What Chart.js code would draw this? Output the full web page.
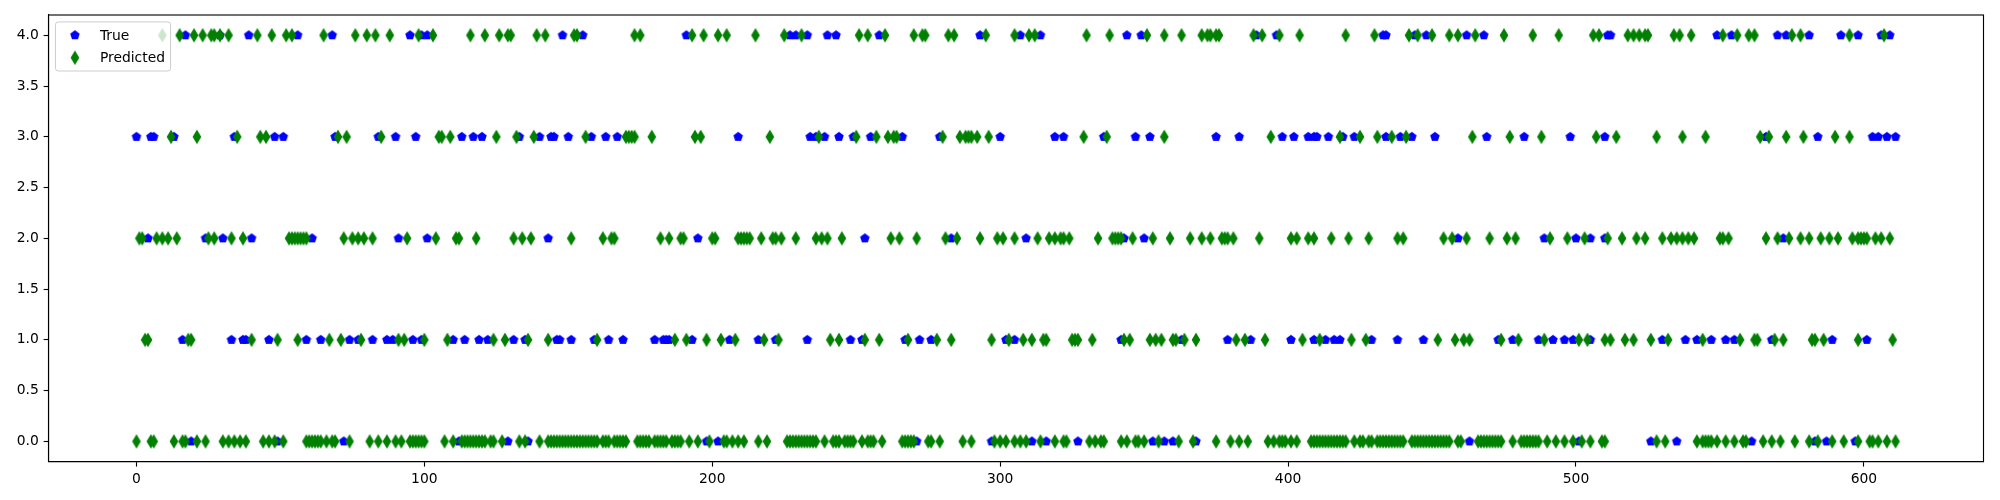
<!DOCTYPE html>
<html><head><meta charset="utf-8">
<script src="https://cdn.jsdelivr.net/npm/chart.js@4.4.1/dist/chart.umd.min.js"></script>
<style>html,body{margin:0;padding:0;background:#fff}#wrap{width:2000px;height:500px;position:relative}</style>
</head><body><div id="wrap"><canvas id="c" width="2000" height="500"></canvas></div>
<script>
// ---------------- data (sample index positions per class row) ----------------
const seriesLabels = ['True', 'Predicted'];
const classes = [0, 1, 2, 3, 4];
const xTicks = [0, 100, 200, 300, 400, 500, 600];
const yTicks = [0, 0.5, 1, 1.5, 2, 2.5, 3, 3.5, 4];

const trueRow0 = [19, 49, 72, 112, 129, 136, 198, 202, 271, 297, 311, 316, 327, 353, 357, 360, 368, 463, 501, 526, 535, 561, 583, 587, 597];
const trueRow1 = [16, 33, 37, 38, 46, 59, 64, 74, 77, 82, 87, 89, 96, 99, 110, 114, 119, 122, 131, 135, 146, 147, 151, 159, 164, 169, 180, 183, 184, 185, 193, 206, 216, 222, 233, 248, 252, 267, 272, 276, 302, 305, 342, 363, 379, 387, 401, 409, 413, 416, 418, 429, 438, 447, 473, 478, 487, 492, 496, 499, 505, 530, 538, 542, 547, 552, 555, 568, 589, 601];
const trueRow2 = [4, 24, 30, 40, 61, 91, 101, 143, 195, 210, 253, 283, 309, 343, 350, 459, 489, 500, 505, 510, 572];
const trueRow3 = [0, 5, 6, 13, 34, 48, 51, 69, 84, 90, 97, 113, 117, 120, 133, 140, 144, 145, 150, 158, 163, 167, 209, 234, 236, 239, 244, 249, 255, 266, 279, 300, 319, 322, 336, 347, 352, 375, 383, 398, 402, 407, 409, 410, 414, 419, 423, 434, 439, 443, 451, 469, 482, 498, 510, 566, 584, 603, 605, 608, 611];
const trueRow4 = [17, 29, 39, 56, 68, 95, 99, 101, 148, 155, 191, 227, 229, 233, 240, 243, 258, 293, 307, 314, 344, 349, 389, 396, 433, 434, 444, 448, 462, 468, 511, 512, 549, 554, 570, 573, 581, 592, 598, 606, 609];

const predRow0 = [0, 5, 6, 13, 16, 17, 21, 24, 30, 32, 34, 36, 38, 44, 46, 48, 51, 59, 60, 61, 62, 63, 64, 66, 68, 69, 74, 81, 84, 87, 90, 92, 95, 96, 97, 98, 99, 100, 107, 110, 113, 114, 115, 116, 117, 118, 119, 120, 121, 123, 124, 127, 133, 135, 140, 143, 144, 145, 146, 147, 148, 149, 150, 151, 152, 153, 154, 155, 156, 157, 158, 159, 160, 162, 163, 164, 166, 167, 168, 169, 170, 174, 175, 176, 177, 178, 180, 181, 182, 183, 184, 186, 187, 188, 189, 192, 195, 199, 204, 205, 207, 209, 211, 216, 219, 226, 227, 228, 229, 230, 231, 232, 233, 234, 235, 236, 239, 242, 243, 244, 246, 247, 248, 249, 252, 254, 255, 256, 259, 266, 267, 268, 269, 270, 275, 276, 279, 287, 290, 298, 300, 302, 305, 307, 309, 314, 319, 322, 323, 331, 333, 335, 336, 342, 344, 347, 348, 350, 355, 362, 367, 375, 380, 383, 386, 393, 395, 397, 398, 399, 401, 403, 408, 409, 410, 411, 412, 413, 414, 415, 416, 417, 418, 419, 420, 423, 425, 426, 428, 429, 431, 432, 433, 434, 435, 436, 437, 438, 439, 440, 443, 444, 445, 446, 447, 448, 449, 450, 451, 452, 453, 454, 455, 456, 459, 460, 466, 467, 468, 469, 470, 471, 472, 473, 474, 478, 481, 482, 483, 484, 485, 486, 487, 490, 493, 496, 499, 502, 505, 509, 510, 528, 531, 542, 544, 545, 546, 547, 549, 552, 555, 558, 559, 565, 568, 571, 576, 581, 584, 589, 593, 598, 602, 603, 605, 608, 611];
const predRow1 = [3, 4, 18, 19, 40, 49, 56, 67, 71, 78, 91, 93, 100, 108, 124, 128, 136, 143, 160, 187, 191, 198, 203, 208, 218, 223, 241, 244, 253, 258, 268, 278, 283, 297, 303, 308, 311, 315, 316, 325, 326, 327, 332, 343, 345, 352, 354, 356, 360, 361, 364, 368, 382, 385, 392, 405, 411, 422, 427, 452, 458, 461, 463, 474, 480, 489, 501, 504, 510, 512, 517, 520, 526, 532, 544, 557, 562, 563, 569, 572, 582, 583, 586, 598, 610];
const predRow2 = [1, 2, 7, 9, 11, 14, 25, 27, 33, 37, 53, 54, 55, 56, 57, 58, 59, 72, 75, 77, 79, 82, 94, 104, 111, 112, 118, 131, 134, 137, 151, 162, 165, 166, 182, 185, 189, 190, 200, 201, 209, 210, 211, 212, 213, 217, 221, 222, 224, 229, 236, 238, 240, 245, 262, 265, 271, 281, 285, 293, 299, 301, 305, 313, 317, 319, 321, 322, 324, 334, 339, 340, 341, 342, 346, 353, 359, 366, 370, 373, 377, 378, 379, 381, 390, 401, 403, 407, 409, 415, 421, 428, 438, 440, 454, 457, 462, 470, 476, 479, 491, 497, 503, 511, 516, 521, 524, 530, 533, 535, 537, 539, 541, 550, 551, 553, 566, 570, 574, 578, 581, 585, 588, 591, 596, 598, 599, 600, 601, 604, 606, 609];
const predRow3 = [12, 21, 35, 43, 45, 70, 73, 85, 105, 106, 109, 125, 132, 138, 156, 170, 171, 172, 173, 179, 194, 196, 220, 237, 250, 257, 261, 263, 264, 280, 286, 288, 289, 290, 292, 296, 329, 337, 357, 394, 418, 425, 431, 436, 441, 464, 477, 488, 507, 514, 528, 537, 545, 564, 567, 573, 579, 590, 595];
const predRow4 = [9, 15, 20, 23, 26, 27, 29, 32, 42, 47, 52, 54, 65, 76, 80, 83, 88, 98, 103, 116, 121, 126, 129, 130, 139, 142, 152, 153, 173, 175, 193, 197, 202, 205, 215, 225, 231, 251, 254, 260, 270, 273, 274, 282, 284, 295, 305, 310, 312, 330, 338, 351, 357, 363, 370, 372, 373, 375, 376, 388, 391, 397, 404, 420, 430, 442, 445, 450, 456, 459, 465, 475, 485, 494, 506, 508, 518, 520, 522, 524, 525, 534, 536, 540, 551, 556, 560, 562, 575, 578, 595, 607];

// ---------------- build points ----------------
function toPoints(rows) {
  const pts = [];
  rows.forEach((xs, ci) => xs.forEach(x => pts.push({x: x, y: classes[ci]})));
  return pts;
}
const truePts = toPoints([trueRow0, trueRow1, trueRow2, trueRow3, trueRow4]);
const predPts = toPoints([predRow0, predRow1, predRow2, predRow3, predRow4]);
const nSamples = 612;
const xMin = -0.05 * (nSamples - 1), xMax = (nSamples - 1) * 1.05;

// ---------------- marker images (matplotlib 'p' and 'd', size 6pt) ----------------
const MS = 6 * 100 / 72, LW = 100 / 72;
function makePentagon(color) {
  const R = MS / 2, s = 14;
  const c = document.createElement('canvas'); c.width = s; c.height = s;
  const g = c.getContext('2d'); g.translate(s / 2, s / 2);
  g.beginPath();
  for (let k = 0; k < 5; k++) {
    const a = -Math.PI / 2 + k * 2 * Math.PI / 5;
    const px = R * Math.cos(a), py = R * Math.sin(a);
    if (k) g.lineTo(px, py); else g.moveTo(px, py);
  }
  g.closePath(); g.fillStyle = color; g.fill();
  g.lineWidth = LW; g.lineJoin = 'miter'; g.strokeStyle = color; g.stroke();
  return c;
}
function makeThinDiamond(color) {
  const hh = MS * Math.SQRT1_2, hw = 0.6 * hh, w = 12, h = 18;
  const c = document.createElement('canvas'); c.width = w; c.height = h;
  const g = c.getContext('2d'); g.translate(w / 2, h / 2);
  g.beginPath(); g.moveTo(0, -hh); g.lineTo(hw, 0); g.lineTo(0, hh); g.lineTo(-hw, 0); g.closePath();
  g.fillStyle = color; g.fill();
  g.lineWidth = LW; g.lineJoin = 'miter'; g.strokeStyle = color; g.stroke();
  return c;
}
const pentImg = makePentagon('#0000ff');
const diamImg = makeThinDiamond('#008000');

const FONT = 'DejaVu Sans';
const FS = 10 * 100 / 72;

const framePlugin = {
  id: 'frame',
  afterDatasetsDraw(chart) {
    const a = chart.chartArea, g = chart.ctx;
    g.save(); g.strokeStyle = '#000'; g.lineWidth = 0.8 * 100 / 72;
    g.strokeRect(a.left, a.top, a.right - a.left, a.bottom - a.top);
    g.restore();
  }
};
const legendPlugin = {
  id: 'mplLegend',
  afterDraw(chart) {
    const a = chart.chartArea, g = chart.ctx;
    g.save();
    g.font = FS + 'px "' + FONT + '"';
    const tw = Math.max(...seriesLabels.map(t => g.measureText(t).width));
    const pad = 0.4 * FS, hl = 2.0 * FS, htp = 0.8 * FS, ls = 0.5 * FS, rowH = 15.5;
    const x0 = a.left + 0.5 * FS, y0 = a.top + 0.5 * FS;
    const w = pad + hl + htp + tw + pad, h = pad * 2 + rowH * 2 + ls;
    const r = 0.2 * FS;
    g.beginPath();
    g.moveTo(x0 + r, y0); g.lineTo(x0 + w - r, y0); g.arcTo(x0 + w, y0, x0 + w, y0 + r, r);
    g.lineTo(x0 + w, y0 + h - r); g.arcTo(x0 + w, y0 + h, x0 + w - r, y0 + h, r);
    g.lineTo(x0 + r, y0 + h); g.arcTo(x0, y0 + h, x0, y0 + h - r, r);
    g.lineTo(x0, y0 + r); g.arcTo(x0, y0, x0 + r, y0, r); g.closePath();
    g.fillStyle = 'rgba(255,255,255,0.8)'; g.fill();
    g.lineWidth = 1; g.strokeStyle = '#cccccc'; g.stroke();
    const imgs = [pentImg, diamImg];
    seriesLabels.forEach((t, i) => {
      const cy = y0 + pad + rowH / 2 + i * (rowH + ls);
      const mx = x0 + pad + hl / 2;
      g.drawImage(imgs[i], mx - imgs[i].width / 2, cy - imgs[i].height / 2);
      g.fillStyle = '#000'; g.textBaseline = 'middle'; g.textAlign = 'left';
      g.fillText(t, x0 + pad + hl + htp, cy + 1);
    });
    g.restore();
  }
};

const axisCommon = {
  grid: {drawOnChartArea: false, drawTicks: true, tickLength: 3.5 * 100 / 72, tickWidth: 0.8 * 100 / 72, tickColor: '#000'},
  border: {display: true, color: '#000', width: 0.8 * 100 / 72},
};

new Chart(document.getElementById('c').getContext('2d'), {
  type: 'scatter',
  data: {
    datasets: [
      {label: seriesLabels[1], data: predPts, pointStyle: diamImg, pointRadius: 5, order: 0},
      {label: seriesLabels[0], data: truePts, pointStyle: pentImg, pointRadius: 5, order: 1}
    ]
  },
  options: {
    responsive: false, animation: false, events: [],
    layout: {padding: {top: 15, right: 16.5, left: 0, bottom: 0}},
    plugins: {legend: {display: false}, tooltip: {enabled: false}},
    scales: {
      x: Object.assign({}, axisCommon, {
        type: 'linear', min: xMin, max: xMax,
        afterBuildTicks: s => { s.ticks = xTicks.map(v => ({value: v})); },
        afterFit: s => { s.height = 38.3; },
        ticks: {color: '#000', font: {family: FONT, size: FS}, padding: 3.5 * 100 / 72, maxRotation: 0, autoSkip: false, callback: v => String(v)}
      }),
      y: Object.assign({}, axisCommon, {
        type: 'linear', min: -0.2, max: 4.2,
        afterBuildTicks: s => { s.ticks = yTicks.map(v => ({value: v})); },
        afterFit: s => { s.width = 48.5; },
        ticks: {color: '#000', font: {family: FONT, size: FS}, padding: 3.5 * 100 / 72, autoSkip: false, callback: v => Number(v).toFixed(1)}
      })
    }
  },
  plugins: [framePlugin, legendPlugin]
});
</script>
</body></html>
